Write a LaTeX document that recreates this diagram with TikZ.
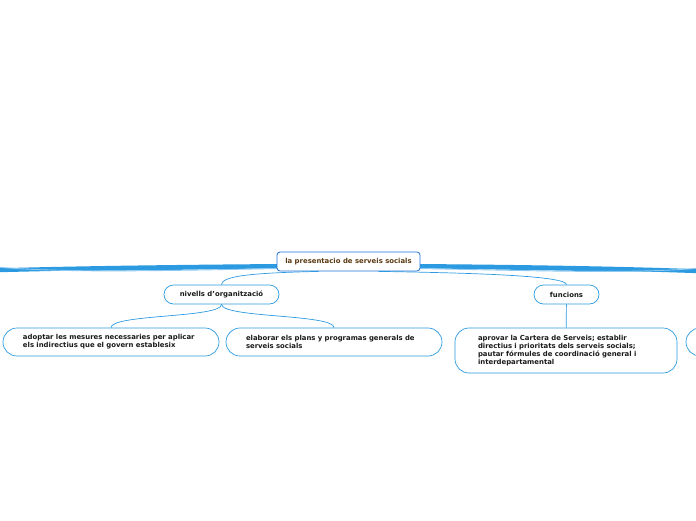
\documentclass[tikz,border=0pt]{standalone}
\usepackage{fontspec}
\setmainfont{DejaVu Sans}
\usetikzlibrary{positioning,calc}
\definecolor{line}{HTML}{2B9AE0}
\definecolor{linel}{HTML}{8CC8F0}
\definecolor{mainb}{HTML}{1E6FD9}
\definecolor{maint}{HTML}{5A3A12}
\definecolor{txt}{HTML}{1A1A1A}

\begin{document}
\begin{tikzpicture}[
  x=1pt, y=-1pt,
  font=\fontsize{6.9}{8}\selectfont\bfseries,
  main/.style={draw=mainb, line width=.8pt, fill=white, rounded corners=3pt, text=maint, minimum width=143pt, minimum height=19pt, inner sep=0pt},
  topic/.style={draw=line, line width=.7pt, fill=white, rounded corners=9.5pt, text=txt, minimum height=19pt, inner sep=0pt},
  sub/.style={draw=line, line width=.7pt, fill=white, rounded corners=14pt, text=txt, align=left, text width=176pt, inner xsep=20pt, inner ysep=6pt, minimum height=28pt},
  link/.style={line, line width=.7pt},
  thick/.style={line, line width=4pt},
]
\useasboundingbox (0,0) rectangle (696,520);
\clip (0,0) rectangle (696,520);

% ---------------- free ends of the main branches
\coordinate (west) at (-10,270.5);
\coordinate (east) at (706,271.5);

% ---------------- branches
\draw[thick] (280,266) .. controls (150,267) and (60,268.5) .. (west);
\draw[line, line width=1.4pt] (280,267.5) .. controls (150,269.5) and (60,271.5) .. ([yshift=1.5]west);
\draw[linel, line width=.9pt] (280,268.5) .. controls (150,271) and (60,273) .. ([yshift=4]west);
\draw[thick] (417,266) .. controls (550,267) and (640,269) .. (east);
\draw[line, line width=1.4pt] (417,267.5) .. controls (550,269.5) and (640,272) .. ([yshift=1.5]east);
\draw[linel, line width=.9pt] (417,268.5) .. controls (550,271) and (640,274) .. ([yshift=4]east);

% ---------------- nodes
\node[main] (pres) at (348.5,261.5) {la presentacio de serveis socials};
\node[topic, minimum width=115pt] (nivells) at (221.5,294.5) {nivells d'organització};
\node[topic, minimum width=65pt] (funcions) at (566.5,294.5) {funcions};
\node[sub, minimum width=216pt] (adoptar) at (111,342) {adoptar les mesures necessaries per aplicar\\els indirectius que el govern establesix};
\node[sub, minimum width=216pt] (elaborar) at (334,342) {elaborar els plans y programas generals de\\serveis socials};
\node[sub, minimum width=222pt, inner xsep=23pt, minimum height=45pt] (aprovar) at (566,350.5) {aprovar la Cartera de Serveis; establir\\directius i prioritats dels serveis socials;\\pautar fórmules de coordinació general i\\interdepartamental};
\node[sub, minimum width=216pt] (next) at (794,342) {};

% ---------------- links
\draw[link] ([xshift=-30]pres.south) .. controls (250,273) and (222,276) .. (nivells.north);
\draw[link] ([xshift=30]pres.south) .. controls (480,273) and (566,276) .. (funcions.north);
\draw[link] (nivells.south) .. controls (222,318) and (111,314) .. (adoptar.north);
\draw[link] (nivells.south) .. controls (222,318) and (334,314) .. (elaborar.north);
\draw[link] (funcions) -- (aprovar);

\end{tikzpicture}
\end{document}
